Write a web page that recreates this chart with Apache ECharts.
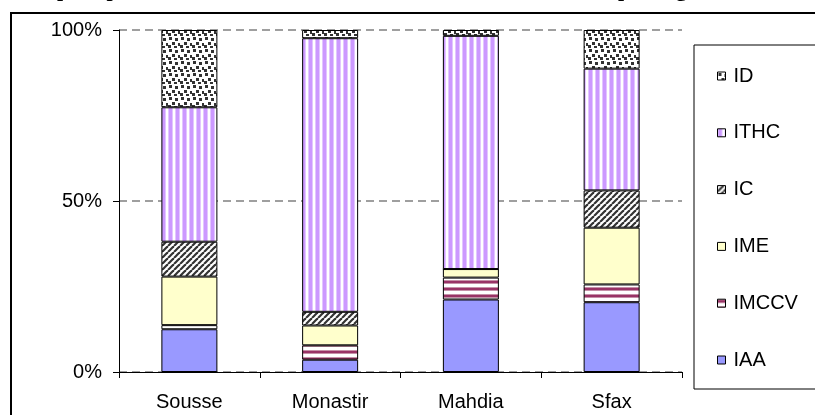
<!DOCTYPE html>
<html>
<head>
<meta charset="utf-8">
<script src="https://cdn.jsdelivr.net/npm/echarts@6/dist/echarts.min.js"></script>
<style>
  html, body { margin: 0; padding: 0; background: #fff; }
  #chart { width: 815px; height: 415px; }
</style>
</head>
<body>
<div id="chart"></div>
<script>
// Regions along the x axis
const regions = ['Sousse', 'Monastir', 'Mahdia', 'Sfax'];

// Share of each industrial sector per region (%), bottom to top of the stack
const IAA   = [12.5,  3.6, 21.2, 20.4];
const IMCCV = [ 1.2,  4.2,  6.4,  5.2];
const IME   = [14.2,  5.8,  2.5, 16.6];
const IC    = [10.2,  4.0,  0.0, 10.9];
const ITHC  = [39.3, 80.0, 68.2, 35.6];
const ID    = [22.6,  2.4,  1.7, 11.3];

const legendOrder = ['ID', 'ITHC', 'IC', 'IME', 'IMCCV', 'IAA'];
const yTicks = [0, 50, 100];

// Small canvas tiles used as repeating fills
function tile(w, h, paint) {
  const c = document.createElement('canvas');
  c.width = w; c.height = h;
  const g = c.getContext('2d');
  g.fillStyle = '#ffffff';
  g.fillRect(0, 0, w, h);
  paint(g, w, h);
  return { image: c, repeat: 'repeat' };
}

const fillIAA = '#9999FF';
const fillIME = '#FFFFCC';

const fillIMCCV = tile(7, 7, g => {
  g.fillStyle = '#C690A8'; g.fillRect(0, 0, 7, 1);
  g.fillStyle = '#993366'; g.fillRect(0, 1, 7, 2);
  g.fillStyle = '#C690A8'; g.fillRect(0, 3, 7, 1);
});

const fillITHC = tile(7, 7, g => {
  g.fillStyle = '#E2C6FF'; g.fillRect(0, 0, 1, 7);
  g.fillStyle = '#CC99FF'; g.fillRect(1, 0, 3, 7);
  g.fillStyle = '#E2C6FF'; g.fillRect(4, 0, 1, 7);
});

const fillIC = tile(6, 6, g => {
  g.strokeStyle = '#333333';
  g.lineWidth = 2.2;
  for (let o = -6; o <= 12; o += 6) {
    g.beginPath();
    g.moveTo(o, 6);
    g.lineTo(o + 6, 0);
    g.stroke();
  }
});

const fillID = tile(12, 12, g => {
  g.fillStyle = '#333333';
  [[1, 1], [7, 2], [4, 6], [10, 7], [0, 9], [6, 10]].forEach(([x, y]) => {
    g.fillRect(x, y, 3, 3);
  });
});

const edge = { borderColor: '#000', borderWidth: 1 };

function barSeries(name, data, fill) {
  return {
    name: name,
    type: 'bar',
    stack: 'total',
    barWidth: 56,
    data: data,
    itemStyle: Object.assign({ color: fill }, edge),
    emphasis: { disabled: true }
  };
}

const titleFont = 'bold 22px "Liberation Serif", "Times New Roman", serif';

const chart = echarts.init(document.getElementById('chart'), null, { renderer: 'canvas' });

chart.setOption({
  animation: false,
  backgroundColor: '#ffffff',
  textStyle: { fontFamily: 'Liberation Sans, Arial, sans-serif' },
  grid: { left: 119, right: 133, top: 30, bottom: 43, containLabel: false },
  graphic: [
    {
      type: 'rect',
      shape: { x: 11, y: 13, width: 830, height: 430 },
      style: { fill: null, stroke: '#000', lineWidth: 2 },
      silent: true
    },
    {
      type: 'rect',
      shape: { x: 694, y: 45, width: 140, height: 344 },
      style: { fill: '#fff', stroke: '#000', lineWidth: 1 },
      silent: true,
      z: 0
    },
    {
      type: 'text',
      left: 24, top: -21,
      style: {
        text: 'Emplois par secteur industriel du Sahel et de Sfax en %',
        font: titleFont,
        fill: '#000'
      },
      silent: true
    },
    {
      type: 'text',
      left: 618, top: -21,
      style: {
        text: 'par région',
        font: titleFont,
        fill: '#000'
      },
      silent: true
    }
  ],
  legend: {
    data: legendOrder,
    orient: 'vertical',
    left: 712,
    top: 61,
    icon: 'rect',
    itemWidth: 8,
    itemHeight: 8,
    itemGap: 36.8,
    selectedMode: false,
    itemStyle: { borderColor: '#000', borderWidth: 1 },
    textStyle: {
      fontSize: 20,
      lineHeight: 20,
      color: '#000',
      fontFamily: 'Liberation Sans, Arial, sans-serif',
      padding: [0, 0, 0, 3]
    },
    z: 5
  },
  xAxis: {
    type: 'category',
    data: regions,
    axisLine: { lineStyle: { color: '#000', width: 1 } },
    axisTick: { show: true, length: 6, alignWithLabel: false, lineStyle: { color: '#000' } },
    axisLabel: { color: '#000', fontSize: 20, margin: 20 },
    splitLine: { show: false }
  },
  yAxis: {
    type: 'value',
    min: 0,
    max: 100,
    interval: 50,
    axisLine: { show: true, lineStyle: { color: '#000', width: 1 } },
    axisTick: { show: true, length: 6, lineStyle: { color: '#000' } },
    axisLabel: {
      color: '#000', fontSize: 20, margin: 17,
      formatter: v => yTicks.includes(v) ? v + '%' : ''
    },
    splitLine: { show: true, lineStyle: { color: '#808080', width: 1.5, type: [8, 5] } }
  },
  series: [
    barSeries('IAA', IAA, fillIAA),
    barSeries('IMCCV', IMCCV, fillIMCCV),
    barSeries('IME', IME, fillIME),
    barSeries('IC', IC, fillIC),
    barSeries('ITHC', ITHC, fillITHC),
    barSeries('ID', ID, fillID)
  ]
});
</script>
</body>
</html>
